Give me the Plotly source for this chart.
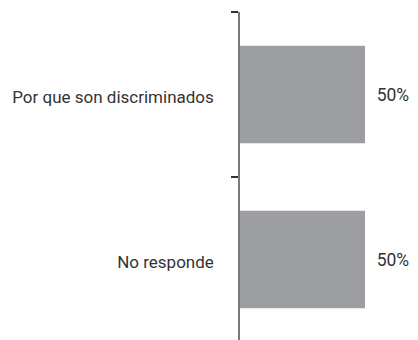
import plotly.graph_objects as go

categories = ["No responde", "Por que son discriminados"]
values = [50, 50]
labels = ["50%", "50%"]

font_family = "Roboto, Arial, sans-serif"

fig = go.Figure()
fig.add_trace(go.Bar(
    x=values,
    y=categories,
    orientation="h",
    width=0.59,
    marker=dict(color="#9d9ea2", line=dict(width=0)),
    text=labels,
    texttemplate="\u00a0\u00a0%{text}",
    textposition="outside",
    textfont=dict(family=font_family, size=17.5, color="#333333"),
    cliponaxis=False,
))

fig.update_xaxes(
    range=[0, 74.4],
    visible=False,
    showgrid=False,
    zeroline=False,
)
fig.update_yaxes(
    type="category",
    range=[-0.5, 1.5],
    showline=True,
    linecolor="#7a7a7a",
    linewidth=1.5,
    ticks="outside",
    tickson="boundaries",
    ticklen=7,
    tickcolor="#333333",
    tickwidth=1.5,
    ticklabelstandoff=21,
    ticklabelshift=3,
    tickfont=dict(family=font_family, size=17, color="#333333"),
    showgrid=False,
    zeroline=False,
    automargin=False,
)

fig.update_layout(
    width=418,
    height=340,
    margin=dict(l=232, r=0, t=4, b=6),
    plot_bgcolor="white",
    paper_bgcolor="white",
    showlegend=False,
)

fig.write_html("out.html")
